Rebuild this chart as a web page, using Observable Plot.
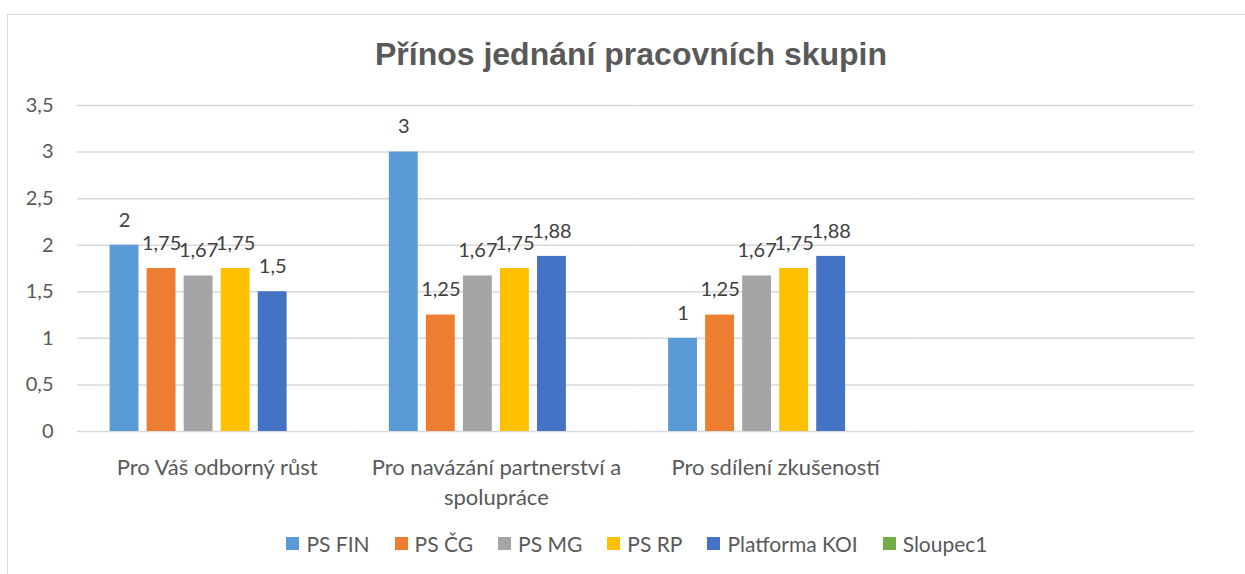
<!DOCTYPE html>
<html>
<head>
<meta charset="utf-8">
<script src="https://cdn.jsdelivr.net/npm/d3@7"></script>
<script src="https://cdn.jsdelivr.net/npm/@observablehq/plot@0.6"></script>
<style>
  html, body { margin: 0; padding: 0; background: #fff; }
  #wrap { position: relative; width: 1245px; height: 574px; overflow: hidden; font-family: Lato, sans-serif; }
  #frame { position: absolute; left: 7px; top: 14px; width: 1300px; height: 600px; border-left: 1.5px solid #d9d9d9; border-top: 1.5px solid #d9d9d9; }
  #title { position: absolute; left: 7px; width: 1248px; top: 38px; line-height: 1; text-align: center; font-family: "Liberation Sans", Arial, sans-serif; font-weight: bold; font-size: 32px; color: #595959; }
  #chart { position: absolute; left: 0; top: 0; }
  #legend { position: absolute; left: 0; width: 1245px; top: 531px; display: flex; justify-content: center; padding-left: 29px; box-sizing: border-box; gap: 25px; font-size: 21px; line-height: 25px; color: #595959; }
  #legend .item { display: flex; align-items: center; gap: 7px; }
  #legend .sw { width: 13px; height: 13px; display: inline-block; }
</style>
</head>
<body>
<div id="wrap">
  <div id="frame"></div>
  <div id="chart"></div>
  <div id="title"></div>
  <div id="legend"></div>
</div>
<script>
const title = "Přínos jednání pracovních skupin";
const categories = ["Pro Váš odborný růst", "Pro navázání partnerství a\nspolupráce", "Pro sdílení zkušeností", "(prázdné)"];
const series = ["PS FIN", "PS ČG", "PS MG", "PS RP", "Platforma KOI", "Sloupec1"];
const colors = ["#5B9BD5", "#ED7D31", "#A5A5A5", "#FFC000", "#4472C4", "#70AD47"];
const psFin = [2, 3, 1, null];
const psCg = [1.75, 1.25, 1.25, null];
const psMg = [1.67, 1.67, 1.67, null];
const psRp = [1.75, 1.75, 1.75, null];
const platformaKoi = [1.5, 1.88, 1.88, null];
const sloupec1 = [null, null, null, null];
const yTicks = [0, 0.5, 1, 1.5, 2, 2.5, 3, 3.5];

const seriesValues = [psFin, psCg, psMg, psRp, platformaKoi, sloupec1];
const data = [];
categories.forEach((c, i) => {
  series.forEach((s, j) => {
    data.push({category: c, series: s, value: seriesValues[j][i]});
  });
});
const fmt = v => String(v).replace(".", ",");

document.getElementById("title").textContent = title;

const chart = Plot.plot({
  width: 1245,
  height: 574,
  marginLeft: 77,
  marginRight: 51,
  marginTop: 105,
  marginBottom: 143,
  style: {fontFamily: "Lato, sans-serif", background: "transparent", overflow: "visible"},
  fx: {domain: categories, padding: 0, round: false, label: null},
  x: {domain: series, paddingInner: 0.22, paddingOuter: 0.88, round: false, axis: null},
  y: {domain: [0, 3.5], label: null},
  color: {domain: series, range: colors},
  marks: [
    Plot.gridY(yTicks, {stroke: "#d9d9d9", strokeOpacity: 1, strokeWidth: 1.5}),
    Plot.axisY(yTicks, {tickSize: 0, tickPadding: 24, tickFormat: fmt, fontSize: 20, fill: "#595959", label: null}),
    Plot.axisFx({anchor: "bottom", tickSize: 0, tickPadding: 22, fontSize: 22, fill: "#595959", lineHeight: 1.36, tickFormat: d => d === "(prázdné)" ? "" : d, label: null}),
    Plot.barY(data, {fx: "category", x: "series", y: "value", fill: "series"}),
    Plot.text(data.filter(d => d.value != null), {fx: "category", x: "series", y: "value", text: d => fmt(d.value), dy: -25, fontSize: 20, fill: "#404040"})
  ]
});
document.getElementById("chart").appendChild(chart);

const legend = d3.select("#legend");
series.forEach((s, j) => {
  const item = legend.append("div").attr("class", "item");
  item.append("span").attr("class", "sw").style("background", colors[j]);
  item.append("span").text(s);
});
</script>
</body>
</html>
